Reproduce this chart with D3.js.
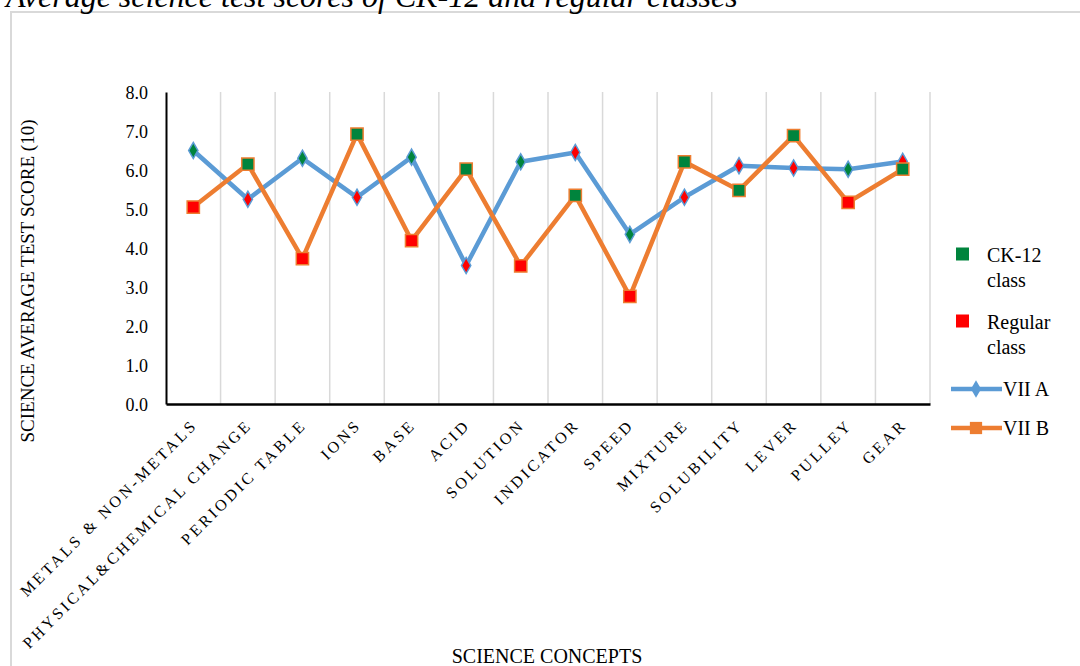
<!DOCTYPE html>
<html><head><meta charset="utf-8">
<script src="https://cdn.jsdelivr.net/npm/d3@7"></script>
<style>
body{margin:0;background:#fff}
svg{display:block}
text{font-family:"Liberation Serif","Times New Roman",serif;fill:#000}
</style>
</head><body>
<svg id="c" width="1080" height="666"></svg>
<script>
const categories = ["METALS & NON-METALS","PHYSICAL&CHEMICAL CHANGE","PERIODIC TABLE","IONS","BASE","ACID","SOLUTION","INDICATOR","SPEED","MIXTURE","SOLUBILITY","LEVER","PULLEY","GEAR"];
const vIIA = [6.50,5.25,6.30,5.30,6.33,3.55,6.21,6.45,4.35,5.30,6.11,6.05,6.02,6.22];
const vIIB = [5.05,6.15,3.73,6.92,4.19,6.02,3.54,5.35,2.76,6.21,5.48,6.88,5.17,6.02];
// which class type each section of VII A was (VII B is the other one)
const classA = ["ck","reg","ck","reg","ck","reg","ck","reg","ck","reg","reg","reg","ck","reg"];
const classB = ["reg","ck","reg","ck","reg","ck","reg","ck","reg","ck","ck","ck","reg","ck"];
const yTicks = [0,1,2,3,4,5,6,7,8];
const seriesNames = ["VII A","VII B"];
const classNames = [["CK-12","class"],["Regular","class"]];

const colors = {blue:"#5B9BD5", orange:"#ED7D31", ck:"#00843D", reg:"#FF0000", grid:"#D9D9D9"};

const svg = d3.select("#c");
const x = d3.scaleBand().domain(categories).range([166,930]);
const y = d3.scaleLinear().domain([0,8]).range([404,92]);

// chart area border
svg.append("rect").attr("x",11).attr("y",12).attr("width",1100).attr("height",700)
  .attr("fill","none").attr("stroke","#D9D9D9").attr("stroke-width",2);

// title (cut off at top, as in the source)
svg.append("text").attr("x",6).attr("y",7).attr("font-style","italic").attr("font-size",32)
  .text("Average science test scores of CK-12 and regular classes");

// vertical gridlines at category boundaries
const bounds = categories.map(c=>x(c)+x.bandwidth());
svg.append("g").selectAll("line").data(bounds).join("line")
  .attr("x1",d=>d).attr("x2",d=>d).attr("y1",y(8)).attr("y2",y(0))
  .attr("stroke",colors.grid).attr("stroke-width",1.5);

// y axis
const yAxis = d3.axisLeft(y).tickValues(yTicks).tickFormat(d3.format(".1f")).tickSize(0).tickPadding(18);
const gy = svg.append("g").attr("transform",`translate(${x.range()[0]},0)`).call(yAxis);
gy.select(".domain").attr("stroke","#000").attr("stroke-width",2);
gy.selectAll("text").attr("font-size",18).attr("font-family",'"Liberation Serif",serif').attr("dy","0.35em");

// x axis
const xAxis = d3.axisBottom(x).tickSize(0).tickFormat("");
const gx = svg.append("g").attr("transform",`translate(0,${y(0)})`).call(xAxis);
gx.select(".domain").attr("stroke","#000").attr("stroke-width",2.5);

// x labels rotated
const ls = 3;
svg.append("g").selectAll("text").data(categories).join("text")
  .attr("transform",d=>`translate(${x(d)+x.bandwidth()/2+3},428) rotate(-45)`)
  .attr("text-anchor","end").attr("dx",ls).attr("font-size",16).attr("letter-spacing",ls)
  .text(d=>d);

// y title
svg.append("text").attr("transform","translate(34,281) rotate(-90)").attr("text-anchor","middle")
  .attr("font-size",19).text("SCIENCE AVERAGE TEST SCORE (10)");
// x title
svg.append("text").attr("x",547).attr("y",663).attr("text-anchor","middle").attr("font-size",20)
  .text("SCIENCE CONCEPTS");

const cx = (i)=>x(categories[i])+x.bandwidth()/2;
const line = d3.line().x((d,i)=>cx(i)).y(d=>y(d));
const diamond = d3.symbol().type(d3.symbolDiamond).size(75);
const square = d3.symbol().type(d3.symbolSquare).size(150);

// VII A
svg.append("path").datum(vIIA).attr("d",line).attr("fill","none").attr("stroke",colors.blue)
  .attr("stroke-width",4.5).attr("stroke-linejoin","round");
svg.append("g").selectAll("path").data(vIIA).join("path")
  .attr("d",diamond).attr("transform",(d,i)=>`translate(${cx(i)},${y(d)})`)
  .attr("fill",(d,i)=>colors[classA[i]]).attr("stroke",colors.blue).attr("stroke-width",1.5);
// VII B
svg.append("path").datum(vIIB).attr("d",line).attr("fill","none").attr("stroke",colors.orange)
  .attr("stroke-width",4.5).attr("stroke-linejoin","round");
svg.append("g").selectAll("path").data(vIIB).join("path")
  .attr("d",square).attr("transform",(d,i)=>`translate(${cx(i)},${y(d)})`)
  .attr("fill",(d,i)=>colors[classB[i]]).attr("stroke",colors.orange).attr("stroke-width",1.5);

// legend
const lg = svg.append("g");
const clsKeys = ["ck","reg"];
const clsY = [254,321];
classNames.forEach((nm,k)=>{
  lg.append("rect").attr("x",956).attr("y",clsY[k]-6.5).attr("width",13).attr("height",13).attr("fill",colors[clsKeys[k]]);
  nm.forEach((t,j)=>lg.append("text").attr("x",987).attr("y",clsY[k]+8+j*25).attr("font-size",20).text(t));
});
const serY = [389,428];
const serCol = [colors.blue,colors.orange];
seriesNames.forEach((nm,k)=>{
  lg.append("line").attr("x1",951).attr("x2",1002).attr("y1",serY[k]).attr("y2",serY[k])
    .attr("stroke",serCol[k]).attr("stroke-width",4.5);
  lg.append("path").attr("d",(k===0?d3.symbol().type(d3.symbolDiamond).size(90):d3.symbol().type(d3.symbolSquare).size(150))())
    .attr("transform",`translate(976,${serY[k]})`).attr("fill",serCol[k]);
  lg.append("text").attr("x",1003).attr("y",serY[k]+7).attr("font-size",20).text(nm);
});
</script>
</body></html>
